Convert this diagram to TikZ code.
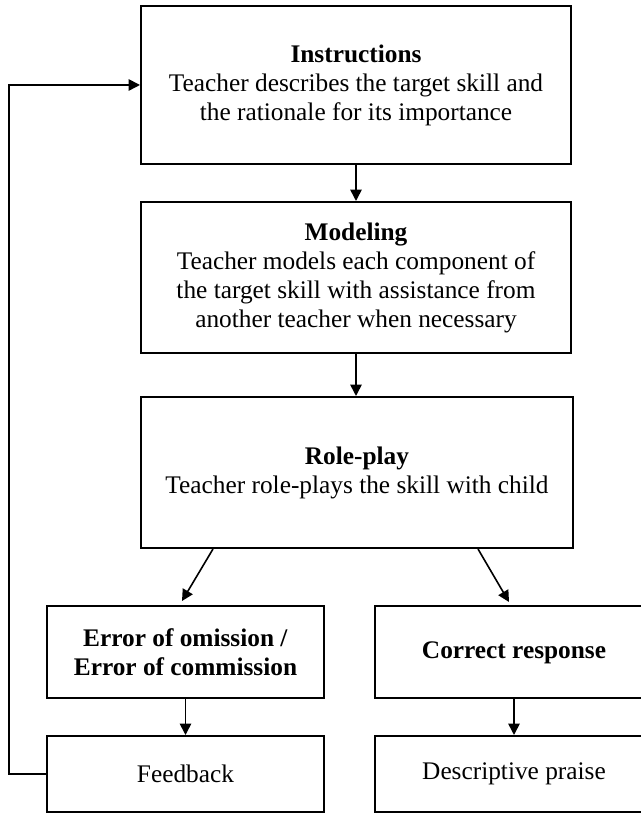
\documentclass[tikz,border=0pt]{standalone}
\usepackage{fontspec}
\setmainfont{Liberation Serif}
\usetikzlibrary{arrows.meta,positioning}
\usetikzlibrary{calc}

\begin{document}
\begin{tikzpicture}[x=0.75pt,y=0.75pt,
    box/.style={draw=black, line width=1.5pt, align=center, inner sep=0pt,
                font=\fontsize{19}{21.75}\selectfont},
    wide/.style={box, minimum width=322.5pt, minimum height=113.25pt},
    small/.style={box, minimum width=208pt, minimum height=69pt},
    arr/.style={-{Triangle[length=8.5pt,width=8.5pt]}, line width=1.2pt}]

        \useasboundingbox (0,0) rectangle (641,813);

        % Main column
        \node[wide, minimum height=118.5pt] (instr) at (356,728) {\textbf{Instructions}\\Teacher describes the target skill and\\the rationale for its importance};
        \node[wide] (model) at (356,535.5) {\textbf{Modeling}\\Teacher models each component of\\the target skill with assistance from\\another teacher when necessary};
        \node[wide, minimum width=324pt] (role) at (357,340.5) {\textbf{Role-play}\\Teacher role-plays the skill with child};

        % Two branches
        \node[small] (error) at (185.5,161) {\textbf{Error of omission /}\\\textbf{Error of commission}};
        \node[small, minimum width=208.5pt] (correct) at (514,160.5) {\textbf{Correct response}};
        \node[small, minimum height=57pt] (feedback) at (185.5,39) {Feedback};
        \node[small, minimum width=208.5pt, minimum height=57pt] (praise) at (514,39) {Descriptive praise};

        \coordinate (loop) at (9,39);

        % Arrows
        \draw[arr] (instr) -- (model);
        \draw[arr] (model.south) -- (model.south |- role.north);
        \draw[arr] ($(role.south)+(-144,0)$) -- ($(error.north)+(-3.5,4)$);
        \draw[arr] ($(role.south)+(121,0)$) -- ($(correct.north)+(-5,3.5)$);
        \draw[arr] (error) -- (feedback);
        \draw[arr] (correct.south) -- (correct.south |- praise.north);
        \draw[arr] (feedback.west) -- (loop) |- (instr.west);
    \end{tikzpicture}
\end{document}
